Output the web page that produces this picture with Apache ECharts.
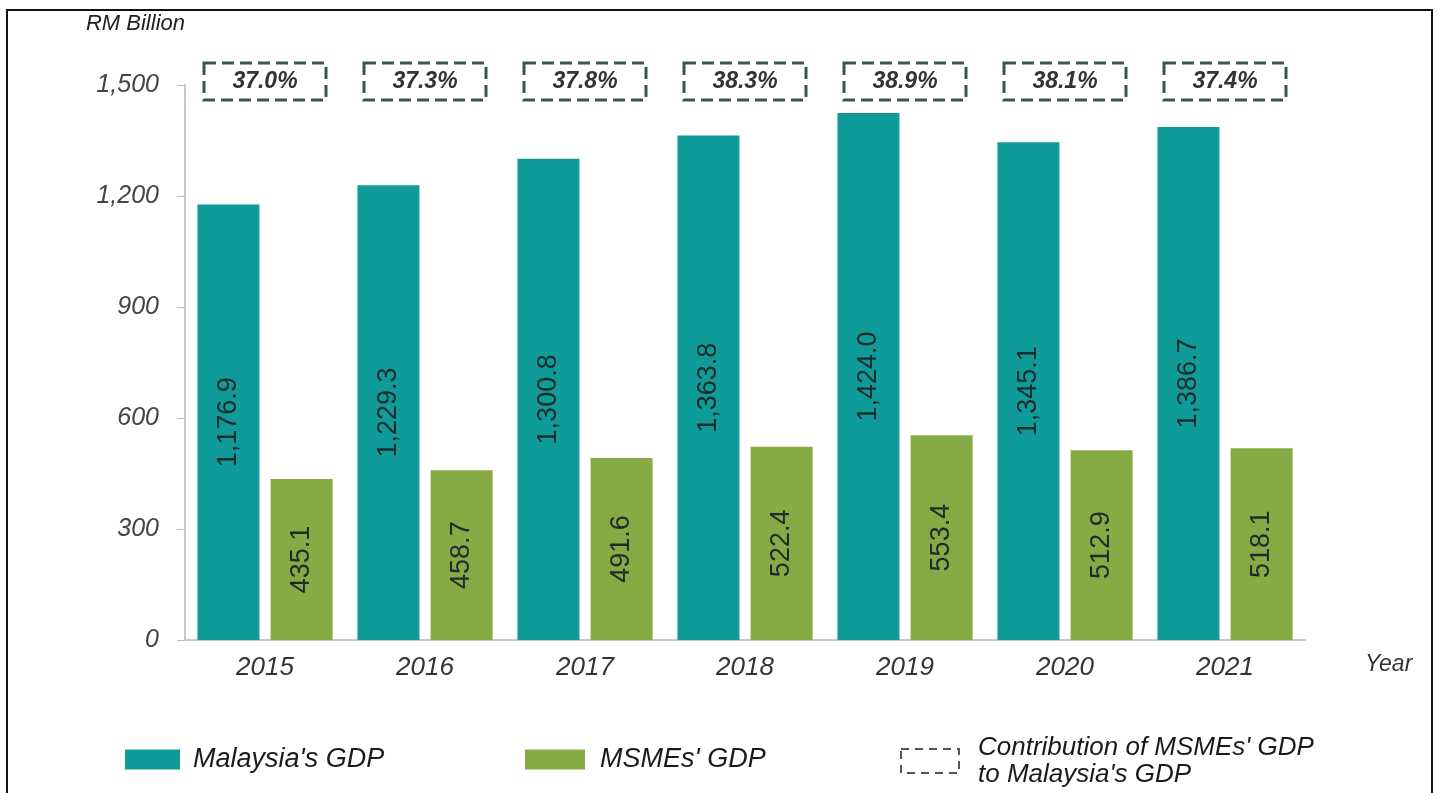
<!DOCTYPE html>
<html>
<head>
<meta charset="utf-8">
<title>Malaysia's GDP and MSMEs' GDP</title>
<script src="https://cdn.jsdelivr.net/npm/echarts@6/dist/echarts.min.js"></script>
<style>
  html, body { margin: 0; padding: 0; background: #fff; }
  #chart { width: 1438px; height: 793px; }
</style>
</head>
<body>
<div id="chart"></div>
<script>
// data
const years = ["2015", "2016", "2017", "2018", "2019", "2020", "2021"];
const malaysiaGdp = [1176.9, 1229.3, 1300.8, 1363.8, 1424.0, 1345.1, 1386.7];
const msmeGdp = [435.1, 458.7, 491.6, 522.4, 553.4, 512.9, 518.1];
const msmeShare = [37.0, 37.3, 37.8, 38.3, 38.9, 38.1, 37.4];

const yMax = 1500;
const font = "'Liberation Sans', Arial, sans-serif";
const teal = "#0f9b9a";
const green = "#86ab45";
const boxColor = "#2f5a52";

const fmt = v =>
  v.toLocaleString("en-US", { minimumFractionDigits: 1, maximumFractionDigits: 1 });

const chart = echarts.init(document.getElementById("chart"));

const barLabel = {
  show: true,
  position: "inside",
  rotate: 90,
  fontFamily: font,
  fontSize: 27,
  color: "#1c2c2c",
  formatter: p => fmt(p.value)
};

const legendText = { fontFamily: font, fontSize: 27, fontStyle: "italic", color: "#1a1a1a" };

chart.setOption({
  backgroundColor: "#fff",
  animation: false,
  graphic: [
    {
      type: "rect",
      shape: { x: 7, y: 10, width: 1425, height: 800 },
      style: { fill: "none", stroke: "#111", lineWidth: 2 },
      silent: true
    }
  ],
  grid: { left: 185, right: 133, top: 85, bottom: 153 },
  legend: [
    {
      left: 125,
      top: 746,
      padding: 0,
      itemWidth: 55,
      itemHeight: 20,
      textStyle: Object.assign({ padding: [0, 0, 0, 8] }, legendText),
      data: [{ name: "Malaysia's GDP", icon: "rect" }]
    },
    {
      left: 525,
      top: 746,
      padding: 0,
      itemWidth: 60,
      itemHeight: 20,
      textStyle: Object.assign({ padding: [0, 0, 0, 10] }, legendText),
      data: [{ name: "MSMEs' GDP", icon: "rect" }]
    },
    {
      left: 900,
      top: 734,
      padding: 0,
      itemWidth: 58,
      itemHeight: 24,
      textStyle: Object.assign({}, legendText, {
        fontSize: 26,
        lineHeight: 27,
        padding: [0, 0, 0, 14]
      }),
      formatter: () => "Contribution of MSMEs' GDP\nto Malaysia's GDP",
      data: [
        {
          name: "share",
          icon: "rect",
          itemStyle: {
            color: "transparent",
            borderColor: "#4a5a56",
            borderWidth: 2,
            borderType: [8, 6]
          }
        }
      ]
    }
  ],
  xAxis: {
    type: "category",
    data: years,
    name: "Year",
    nameLocation: "end",
    nameGap: 60,
    nameTextStyle: {
      fontFamily: font,
      fontSize: 23,
      fontStyle: "italic",
      color: "#333",
      verticalAlign: "top",
      padding: [13, 0, 0, 0]
    },
    axisLine: { lineStyle: { color: "#c8c8c8", width: 2 } },
    axisTick: { show: false },
    axisLabel: {
      margin: 15,
      fontFamily: font,
      fontSize: 26,
      fontStyle: "italic",
      color: "#333"
    }
  },
  yAxis: {
    type: "value",
    min: 0,
    max: yMax,
    interval: 300,
    name: "RM Billion",
    nameLocation: "end",
    nameGap: 50,
    nameTextStyle: {
      fontFamily: font,
      fontSize: 22,
      fontStyle: "italic",
      color: "#222",
      align: "right"
    },
    axisLine: { show: true, lineStyle: { color: "#c8c8c8", width: 2 } },
    axisTick: { show: true, length: 8, lineStyle: { color: "#bbb" } },
    splitLine: { show: false },
    axisLabel: {
      margin: 26,
      fontFamily: font,
      fontSize: 25,
      fontStyle: "italic",
      color: "#444",
      formatter: v => v.toLocaleString("en-US")
    }
  },
  series: [
    {
      name: "Malaysia's GDP",
      type: "bar",
      barWidth: 62,
      barGap: "18%",
      itemStyle: { color: teal },
      label: barLabel,
      data: malaysiaGdp
    },
    {
      name: "MSMEs' GDP",
      type: "bar",
      barWidth: 62,
      itemStyle: { color: green },
      label: barLabel,
      data: msmeGdp
    },
    {
      // dashed boxes with the MSME share, sitting at the top of the value axis
      name: "share",
      type: "custom",
      clip: false,
      encode: { x: 0, y: 1 },
      itemStyle: { color: "transparent", borderColor: boxColor },
      data: msmeShare.map((v, i) => [i, v]),
      renderItem: (params, api) => {
        const p = api.coord([api.value(0), yMax]);
        return {
          type: "group",
          children: [
            {
              type: "rect",
              shape: { x: p[0] - 61, y: p[1] - 22, width: 122, height: 37 },
              style: { fill: "#fff", stroke: boxColor, lineWidth: 3, lineDash: [12, 6] }
            },
            {
              type: "text",
              style: {
                text: api.value(1).toFixed(1) + "%",
                x: p[0],
                y: p[1] - 3.5,
                align: "center",
                verticalAlign: "middle",
                font: "italic bold 23px " + font,
                fill: "#333"
              }
            }
          ]
        };
      }
    }
  ]
});
</script>
</body>
</html>
